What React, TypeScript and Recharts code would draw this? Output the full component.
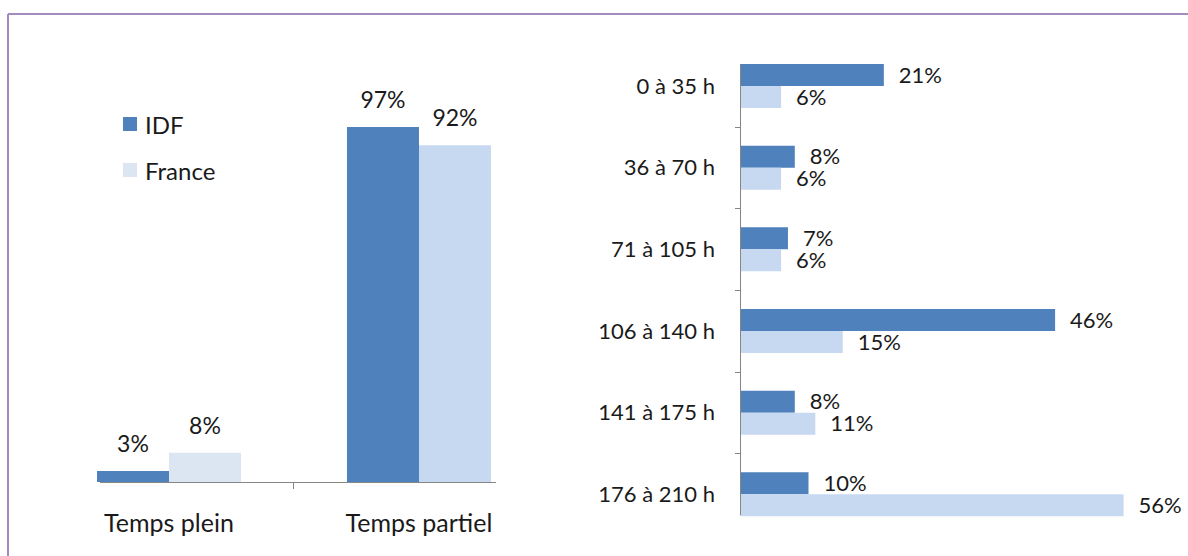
import { BarChart, Bar, Cell, XAxis, YAxis, LabelList } from 'recharts';

const typeCategories = ['Temps plein', 'Temps partiel'];
const typeIdf = [3, 97];
const typeFrance = [8, 92];
const typeFranceColors = ['#dce6f2', '#c6d9f1'];

const hourCategories = ['0 à 35 h', '36 à 70 h', '71 à 105 h', '106 à 140 h', '141 à 175 h', '176 à 210 h'];
const hourIdf = [21, 8, 7, 46, 8, 10];
const hourFrance = [6, 6, 6, 15, 11, 56];

const IDF = '#4f81bd';
const FRANCE = '#c6d9f1';
const AXIS = '#868686';
const TEXT = '#1a1a1a';
const FONT = 'Lato, "Open Sans", sans-serif';

const typeData = typeCategories.map((name, i) => ({ name, idf: typeIdf[i], france: typeFrance[i] }));
const hourData = hourCategories.map((name, i) => ({ name, idf: hourIdf[i], france: hourFrance[i] }));

// right chart plot box
const R_TOP = 45;
const R_BOTTOM = 535;
const R_BAND = (R_BOTTOM - R_TOP) / hourCategories.length;

const pct = (v: number) => `${v}%`;

function LegendBox() {
  const items = [
    { label: 'IDF', color: IDF },
    { label: 'France', color: '#dce6f2' },
  ];
  return (
    <div style={{ position: 'absolute', left: 123, top: 101, fontFamily: FONT, fontSize: 24, color: TEXT }}>
      {items.map((it) => (
        <div key={it.label} style={{ display: 'flex', alignItems: 'center', height: 46 }}>
          <span style={{ width: 14, height: 14, background: it.color, marginRight: 8 }} />
          {it.label}
        </div>
      ))}
    </div>
  );
}

export default function App() {
  return (
    <div style={{ position: 'absolute', left: 0, top: 0, width: 1188, height: 556, background: '#fff', overflow: 'hidden' }}>
      <div style={{ position: 'absolute', left: 0, top: 0 }}>
        <BarChart
          width={600} height={556} data={typeData}
          margin={{ top: 116, right: 56, bottom: 0, left: 44 }}
          barGap={0}
        >
          <XAxis
            dataKey="name" axisLine={false} tickLine={false} tickSize={0} tickMargin={32} height={74}
            tick={{ fontSize: 25, fontFamily: FONT, fill: TEXT }}
          />
          <YAxis hide domain={[0, 100]} />
          <Bar dataKey="idf" fill={IDF} barSize={72} isAnimationActive={false}>
            <LabelList dataKey="idf" position="top" offset={19} formatter={pct}
              fill={TEXT} fontSize={23} fontFamily={FONT} />
          </Bar>
          <Bar dataKey="france" fill={FRANCE} barSize={72} isAnimationActive={false}>
            {typeData.map((d, i) => (
              <Cell key={d.name} fill={typeFranceColors[i]} />
            ))}
            <LabelList dataKey="france" position="top" offset={19} formatter={pct}
              fill={TEXT} fontSize={23} fontFamily={FONT} />
          </Bar>
        </BarChart>
      </div>
      <LegendBox />

      <div style={{ position: 'absolute', left: 580, top: 0 }}>
        <BarChart
          layout="vertical" width={608} height={556} data={hourData}
          margin={{ top: R_TOP, right: 37, bottom: 556 - R_BOTTOM, left: 0 }}
          barGap={0}
        >
          <XAxis type="number" hide domain={[0, 60]} />
          <YAxis
            type="category" dataKey="name" width={160} axisLine={false} tickLine={false}
            tickSize={0} tickMargin={25}
            tick={{ fontSize: 22, fontFamily: FONT, fill: TEXT }}
          />
          <Bar dataKey="idf" fill={IDF} barSize={22} isAnimationActive={false}>
            <LabelList dataKey="idf" position="right" offset={15} formatter={pct}
              fill={TEXT} fontSize={22} fontFamily={FONT} />
          </Bar>
          <Bar dataKey="france" fill={FRANCE} barSize={22} isAnimationActive={false}>
            <LabelList dataKey="france" position="right" offset={15} formatter={pct}
              fill={TEXT} fontSize={22} fontFamily={FONT} />
          </Bar>
        </BarChart>
      </div>

      {/* frame and axis lines */}
      <svg width={1188} height={556} style={{ position: 'absolute', left: 0, top: 0, pointerEvents: 'none' }}>
        <line x1={8} y1={14} x2={1188} y2={14} stroke="#a38bbf" strokeWidth={2} />
        <line x1={8} y1={14} x2={8} y2={556} stroke="#a38bbf" strokeWidth={2} />
        <line x1={100} y1={482.5} x2={496} y2={482.5} stroke={AXIS} />
        <line x1={293.5} y1={482} x2={293.5} y2={489} stroke={AXIS} />
        <line x1={740.5} y1={65} x2={740.5} y2={515} stroke={AXIS} />
        {hourCategories.slice(1).map((c, i) => {
          const y = Math.round(R_TOP + (i + 1) * R_BAND) + 0.5;
          return <line key={c} x1={735} y1={y} x2={740} y2={y} stroke={AXIS} />;
        })}
      </svg>
    </div>
  );
}
